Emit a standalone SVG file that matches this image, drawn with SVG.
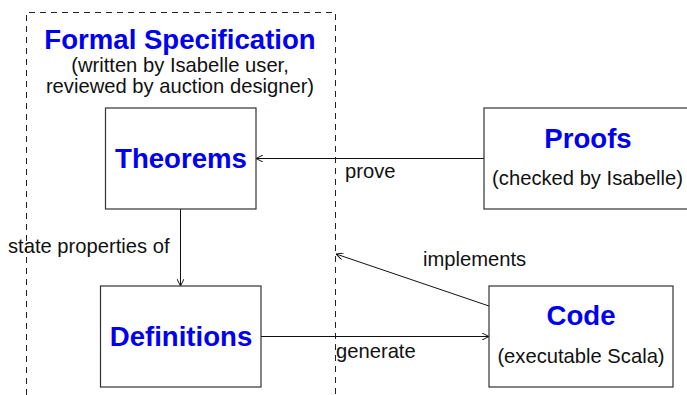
<svg xmlns="http://www.w3.org/2000/svg" width="687" height="395" viewBox="0 0 687 395">
<style>
.box{fill:#fff;stroke:#333;stroke-width:1.2}
.title{font-family:"Liberation Sans",Arial,sans-serif;font-weight:bold;font-size:27.6px;fill:#0000f0;text-anchor:middle}
.sub{font-family:"Liberation Sans",Arial,sans-serif;font-size:20.2px;fill:#111;text-anchor:middle}
.lbl{font-family:"Liberation Sans",Arial,sans-serif;font-size:20.2px;fill:#111}
.edge{stroke:#111;stroke-width:1;fill:none;marker-end:url(#arr)}
.dash{stroke:#222;stroke-width:1;fill:none;stroke-dasharray:6 5}
</style>
<defs>
<marker id="arr" viewBox="0 0 10 10" refX="10" refY="5" markerWidth="7" markerHeight="7" markerUnits="userSpaceOnUse" orient="auto">
<path d="M0,0 L10,5 L0,10" fill="none" stroke="#111" stroke-width="1.4"/>
</marker>
</defs>
<rect width="687" height="395" fill="#fff"/>
<g id="formal-spec">
<path class="dash" d="M26.5,395 V12.5 H335.5 V395"/>
<text class="title" x="180" y="49">Formal Specification</text>
<text class="sub" x="180" y="72">(written by Isabelle user,</text>
<text class="sub" x="180" y="93">reviewed by auction designer)</text>
</g>
<g id="connectors">
<line class="edge" x1="484" y1="158.5" x2="256" y2="158.5"/>
<line class="edge" x1="180.5" y1="209" x2="180.5" y2="286"/>
<line class="edge" x1="489" y1="306" x2="336" y2="254"/>
<line class="edge" x1="261" y1="336.5" x2="489" y2="336.5"/>
<text class="lbl" x="345" y="178">prove</text>
<text class="lbl" x="8" y="253">state properties of</text>
<text class="lbl" x="423" y="266">implements</text>
<text class="lbl" x="336" y="358">generate</text>
</g>
<g id="theorems">
<rect class="box" x="105.5" y="108" width="150.5" height="101"/>
<text class="title" x="181" y="168">Theorems</text>
</g>
<g id="definitions">
<rect class="box" x="100.5" y="286" width="160.5" height="101"/>
<text class="title" x="181" y="346">Definitions</text>
</g>
<g id="proofs">
<rect class="box" x="484" y="108" width="205" height="101"/>
<text class="title" x="588" y="148">Proofs</text>
<text class="sub" x="587.5" y="185">(checked by Isabelle)</text>
</g>
<g id="code">
<rect class="box" x="489" y="286" width="184" height="101"/>
<text class="title" x="581" y="325">Code</text>
<text class="sub" x="581" y="363">(executable Scala)</text>
</g>
</svg>
